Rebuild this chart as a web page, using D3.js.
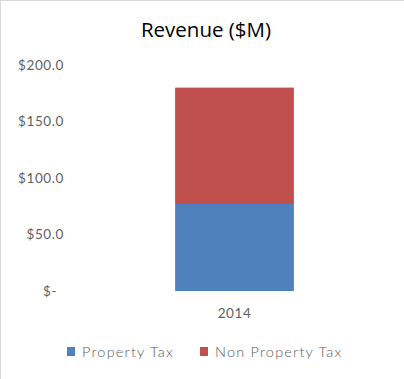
<!DOCTYPE html>
<html><head><meta charset="utf-8">
<script src="https://cdn.jsdelivr.net/npm/d3@7"></script>
<style>
html,body{margin:0;padding:0;background:#fff;}
svg{display:block;}
</style></head>
<body>
<svg id="c" width="404" height="379"></svg>
<script>
const categories = ["2014"];
const seriesNames = ["Property Tax", "Non Property Tax"];
const propertyTax = [77];
const nonPropertyTax = [103];
const yTicks = [0, 50, 100, 150, 200];
const colors = ["#4F81BD", "#C0504D"];

const svg = d3.select("#c");
const W = 404, H = 379;
svg.append("rect").attr("x",0).attr("y",0).attr("width",W).attr("height",H).attr("fill","#fff");
svg.append("line").attr("x1",0.5).attr("y1",0).attr("x2",0.5).attr("y2",H).attr("stroke","#d9d9d9");
svg.append("line").attr("x1",0).attr("y1",0.5).attr("x2",W).attr("y2",0.5).attr("stroke","#d9d9d9");

const x = d3.scaleBand().domain(categories).range([86, 383]).paddingInner(0).paddingOuter(0);
const y = d3.scaleLinear().domain([0, 200]).range([291, 65]);

const data = categories.map((c,i)=>({cat:c, "Property Tax":propertyTax[i], "Non Property Tax":nonPropertyTax[i]}));
const stack = d3.stack().keys(seriesNames)(data);

const barW = x.bandwidth()/2.5;
const g = svg.append("g");
stack.forEach((layer, li) => {
  g.selectAll(null).data(layer).enter().append("rect")
    .attr("x", d => x(d.data.cat) + (x.bandwidth()-barW)/2)
    .attr("width", barW)
    .attr("y", d => y(d[1]))
    .attr("height", d => y(d[0]) - y(d[1]))
    .attr("fill", colors[li]);
});

const fmt = v => v === 0 ? "$-" : "$" + d3.format(".1f")(v);
const yAxis = d3.axisLeft(y).tickValues(yTicks).tickFormat(fmt).tickSize(0).tickPadding(0);
const ya = svg.append("g").attr("transform","translate(64,0)").call(yAxis);
ya.select(".domain").remove();
ya.selectAll("text").attr("font-family","Lato, 'Open Sans', sans-serif").attr("font-size",13.5)
  .attr("fill","#5f5f5f").attr("letter-spacing","0.6px")
  .attr("dx", d => d === 0 ? -7 : 0);

const xAxis = d3.axisBottom(x).tickSize(0).tickPadding(0);
const xa = svg.append("g").attr("transform","translate(0,308)").call(xAxis);
xa.select(".domain").remove();
xa.selectAll("text").attr("font-family","Lato, 'Open Sans', sans-serif").attr("font-size",13.5)
  .attr("fill","#5f5f5f").attr("letter-spacing","0.6px");

svg.append("text").attr("x",206).attr("y",37).attr("text-anchor","middle")
  .attr("font-family","'Open Sans', sans-serif").attr("font-size",20.5).attr("fill","#000")
  .text("Revenue ($M)");

const legendX = [67, 200];
seriesNames.forEach((n,i)=>{
  const lg = svg.append("g").attr("transform",`translate(${legendX[i]},347)`);
  lg.append("rect").attr("width",8).attr("height",9).attr("fill",colors[i]);
  lg.append("text").attr("x",15).attr("y",9.5)
    .attr("font-family","Lato, 'Open Sans', sans-serif").attr("font-size",14.5).attr("font-weight",300)
    .attr("fill","#595959").attr("letter-spacing","1.2px").text(n);
});
</script>
</body></html>
